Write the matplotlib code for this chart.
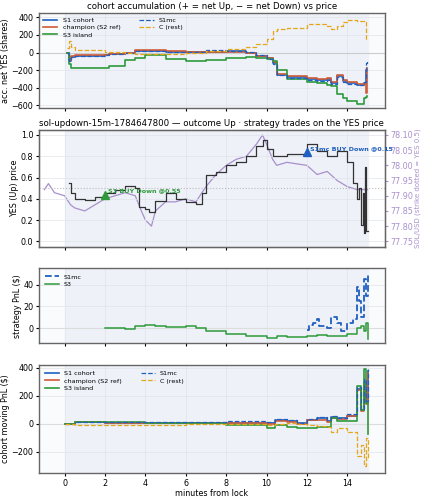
import matplotlib
matplotlib.use("Agg")
import matplotlib.pyplot as plt

# ---- data ----
acc_t = [0.1,0.2,0.3,0.5,1,2,2.2,3,3.5,4,5,6,7,8,9,9.5,10,10.3,10.5,11,12,12.5,13,13.2,13.5,13.8,14,14.5,14.8,14.9,14.95]
acc_s1 = [0,-100,-50,-40,-35,-30,-20,-10,20,20,10,5,10,15,0,-40,-60,-120,-250,-280,-300,-310,-300,-350,-270,-320,-350,-370,-350,-200,-200]
acc_champ = [0,-90,-40,-30,-30,-25,-15,0,30,25,15,10,10,10,-5,-35,-60,-110,-240,-270,-290,-300,-290,-330,-260,-310,-340,-360,-360,-460,-180]
acc_s1mc = [0,-100,-50,-40,-35,-30,-20,-10,15,15,10,5,30,20,10,-30,-70,-130,-260,-290,-310,-320,-310,-360,-280,-330,-360,-370,-330,-120,-100]
acc_s3 = [0,-130,-170,-180,-180,-180,-150,-90,-60,-30,-70,-100,-80,-60,-50,-60,-70,-100,-200,-300,-330,-350,-370,-380,-470,-520,-550,-580,-520,-500,-490]
acc_c = [50,130,60,30,30,10,10,-10,-20,-20,-15,0,20,40,60,100,150,250,270,280,320,330,300,270,300,350,370,360,350,150,150]

yes_t = [0.2,0.3,0.5,1,1.5,2,2.5,3,3.5,3.7,4,4.2,4.5,5,5.5,6,6.5,6.8,7,7.5,8,8.5,9,9.5,9.8,10,10.3,11,12,12.5,13,13.5,14,14.3,14.5,14.6,14.7,14.75,14.8,14.85,14.9,15]
yes_p = [0.55,0.45,0.40,0.39,0.42,0.45,0.48,0.52,0.50,0.32,0.30,0.28,0.38,0.45,0.40,0.37,0.35,0.45,0.62,0.65,0.72,0.75,0.80,0.90,0.95,0.87,0.80,0.82,0.92,0.85,0.80,0.85,0.75,0.55,0.40,0.50,0.15,0.45,0.08,0.70,0.10,0.10]
sol_t = [-1,-0.8,-0.5,0,0.3,0.5,1,1.5,2,2.5,3,3.5,3.8,4,4.3,4.5,5,5.5,6,6.5,7,7.5,8,8.5,9,9.5,9.8,10,10.3,10.5,11,12,12.5,13,13.5,14,14.5,15]
sol_p = [77.92,77.94,77.91,77.90,77.87,77.86,77.85,77.87,77.89,77.90,77.91,77.90,77.85,77.82,77.80,77.85,77.88,77.88,77.89,77.88,77.93,77.97,78.00,78.02,78.03,78.07,78.10,78.07,78.02,78.00,78.01,78.00,77.97,77.98,77.95,77.93,77.92,77.92]
trade_t = [2.0, 12.0]
trade_p = [0.44, 0.84]
trade_lbl = ["S3 BUY Down @0.55", "S1mc BUY Down @0.15"]

s1mc_t = [12,12.1,12.3,12.5,12.6,13,13.2,13.5,13.7,14,14.3,14.5,14.6,14.7,14.8,14.9,15]
s1mc_pnl = [-2,3,5,8,2,0,10,5,-3,5,8,38,25,10,45,30,50]
s3_t = [2,3,3.5,4,4.5,5,6,6.5,7,8,9,10,10.5,11,12,12.5,13,14,14.5,14.7,14.8,14.9,15]
s3_pnl = [0,-1,2,3,2,1,2,0,-3,-5,-7,-9,-7,-8,-7,-6,-7,-5,0,2,-3,5,-10]

mv_t = [0,0.5,1,2,4,6,8,10,10.4,11,11.5,12,12.5,13,13.2,13.5,14,14.5,14.7,14.8,14.9,15]
mv_s1 = [0,15,15,10,10,10,5,5,25,20,5,30,40,20,50,40,60,250,100,300,150,380]
mv_champ = [0,12,12,8,8,8,5,0,20,15,0,25,30,15,40,35,55,240,90,280,140,360]
mv_s1mc = [0,15,15,12,12,15,20,15,35,30,10,35,50,30,60,45,70,260,110,320,160,390]
mv_s3 = [0,15,15,12,10,10,-5,-30,-10,-20,-30,-30,-25,-20,40,20,20,270,100,390,150,-70]
mv_c = [0,-10,-10,-10,-5,0,0,-10,0,5,0,-10,-15,-20,-60,-30,-60,-230,-150,-300,-100,-250]

BLUE = "#1f5fbf"; RED = "#cf5b37"; GREEN = "#2e9a3a"; GOLD = "#e5a617"; PURP = "#a890cc"
FS = 5.8

fig = plt.figure(figsize=(4.23, 5.0), dpi=100)
gs = fig.add_gridspec(4, 1, height_ratios=[95, 117, 75, 108], left=0.092, right=0.91,
                      top=0.974, bottom=0.054, hspace=0.22)
axes = [fig.add_subplot(gs[i]) for i in range(4)]
for i, ax in enumerate(axes):
    ax.set_facecolor("#fafbfd")
    if i != 1:
        ax.axvspan(0, 15, color="#eef1f8", zorder=0)
    ax.grid(True, color="#e2e4ea", lw=0.5)
    ax.set_xlim(-1.27, 15.86)
    ax.set_xticks([0, 2, 4, 6, 8, 10, 12, 14])
    ax.tick_params(labelsize=FS, length=2.5, pad=1.5)
    for s in ax.spines.values():
        s.set_color("#666"); s.set_linewidth(1.0)
for ax in axes[:3]:
    ax.tick_params(labelbottom=False)

ax = axes[0]
ax.axhline(0, color="#ccc", lw=0.8)
ax.plot(acc_t, acc_s1, drawstyle="steps-post", color=BLUE, lw=1.2, label="S1 cohort")
ax.plot(acc_t, acc_champ, drawstyle="steps-post", color=RED, lw=1.2, label="champion (S2 ref)")
ax.plot(acc_t, acc_s3, drawstyle="steps-post", color=GREEN, lw=1.2, label="S3 island")
ax.plot(acc_t, acc_s1mc, drawstyle="steps-post", color=BLUE, lw=0.9, ls="--", label="S1mc")
ax.plot(acc_t, acc_c, drawstyle="steps-post", color=GOLD, lw=0.9, ls="--", label="C (rest)")
ax.set_ylim(-630, 450)
ax.set_yticks([-600, -400, -200, 0, 200, 400])
ax.set_yticklabels(["−600", "−400", "−200", "0", "200", "400"])
ax.set_ylabel("acc. net YES (shares)", fontsize=FS, labelpad=1)
ax.set_title("cohort accumulation (+ = net Up, − = net Down) vs price", fontsize=6.2, pad=3)
ax.legend(ncol=2, fontsize=4.6, loc="upper left", frameon=False, handlelength=2.2, columnspacing=3,
          borderaxespad=0.3, labelspacing=0.3)

ax = axes[1]
ax2 = ax.twinx()
ax2.set_facecolor("#fafbfd")
ax2.axvspan(0, 15, color="#eef1f8", zorder=0)
ax2.plot(sol_t, sol_p, color=PURP, lw=0.9, zorder=2)
ax2.set_ylim(77.7325, 78.1175)
ax2.set_yticks([77.75, 77.80, 77.85, 77.90, 77.95, 78.00, 78.05, 78.10])
ax2.tick_params(labelsize=FS, colors=PURP, length=2.5, pad=1.5)
ax2.set_ylabel("SOL/USD (strike dotted = YES 0.5)", fontsize=5, color=PURP, labelpad=1)
ax.set_zorder(ax2.get_zorder() + 1); ax.patch.set_visible(False)
ax.axhline(0.5, color="#bbb", lw=0.8, ls=":")
ax.plot(yes_t, yes_p, drawstyle="steps-post", color="#333", lw=0.9)
cols = [GREEN, BLUE]
for t, p, l, c in zip(trade_t, trade_p, trade_lbl, cols):
    ax.plot([t], [p], marker="^", ms=6, color=c, ls="none")
    ax.text(t + 0.15, p + 0.02, l, color=c, fontsize=4.6, fontweight="bold")
ax.set_ylim(-0.05, 1.05)
ax.set_ylabel("YES (Up) price", fontsize=FS, labelpad=1)
ax.set_title("sol-updown-15m-1784647800 — outcome Up · strategy trades on the YES price", fontsize=6.2, pad=3)

ax = axes[2]
ax.axhline(0, color="#ddd", lw=0.8)
ax.plot(s1mc_t, s1mc_pnl, drawstyle="steps-post", color=BLUE, lw=1.3, ls="--", label="S1mc")
ax.plot(s3_t, s3_pnl, drawstyle="steps-post", color=GREEN, lw=1.1, label="S3")
ax.set_ylim(-14, 55)
ax.set_yticks([0, 20, 40])
ax.set_ylabel("strategy PnL ($)", fontsize=FS, labelpad=1)
ax.legend(fontsize=4.6, loc="upper left", frameon=False, handlelength=2.2, labelspacing=0.3)

ax = axes[3]
ax.axhline(0, color="#ddd", lw=0.8)
ax.plot(mv_t, mv_s1, drawstyle="steps-post", color=BLUE, lw=1.2, label="S1 cohort")
ax.plot(mv_t, mv_champ, drawstyle="steps-post", color=RED, lw=1.2, label="champion (S2 ref)")
ax.plot(mv_t, mv_s3, drawstyle="steps-post", color=GREEN, lw=1.2, label="S3 island")
ax.plot(mv_t, mv_s1mc, drawstyle="steps-post", color=BLUE, lw=0.9, ls="--", label="S1mc")
ax.plot(mv_t, mv_c, drawstyle="steps-post", color=GOLD, lw=0.9, ls="--", label="C (rest)")
ax.set_ylim(-350, 420)
ax.set_yticks([-200, 0, 200, 400])
ax.set_yticklabels(["−200", "0", "200", "400"])
ax.set_ylabel("cohort moving PnL ($)", fontsize=FS, labelpad=1)
ax.set_xlabel("minutes from lock", fontsize=FS, labelpad=1)
ax.legend(ncol=2, fontsize=4.6, loc="upper left", frameon=False, handlelength=2.2, columnspacing=3,
          labelspacing=0.3)

fig.savefig("out.png", dpi=100)
